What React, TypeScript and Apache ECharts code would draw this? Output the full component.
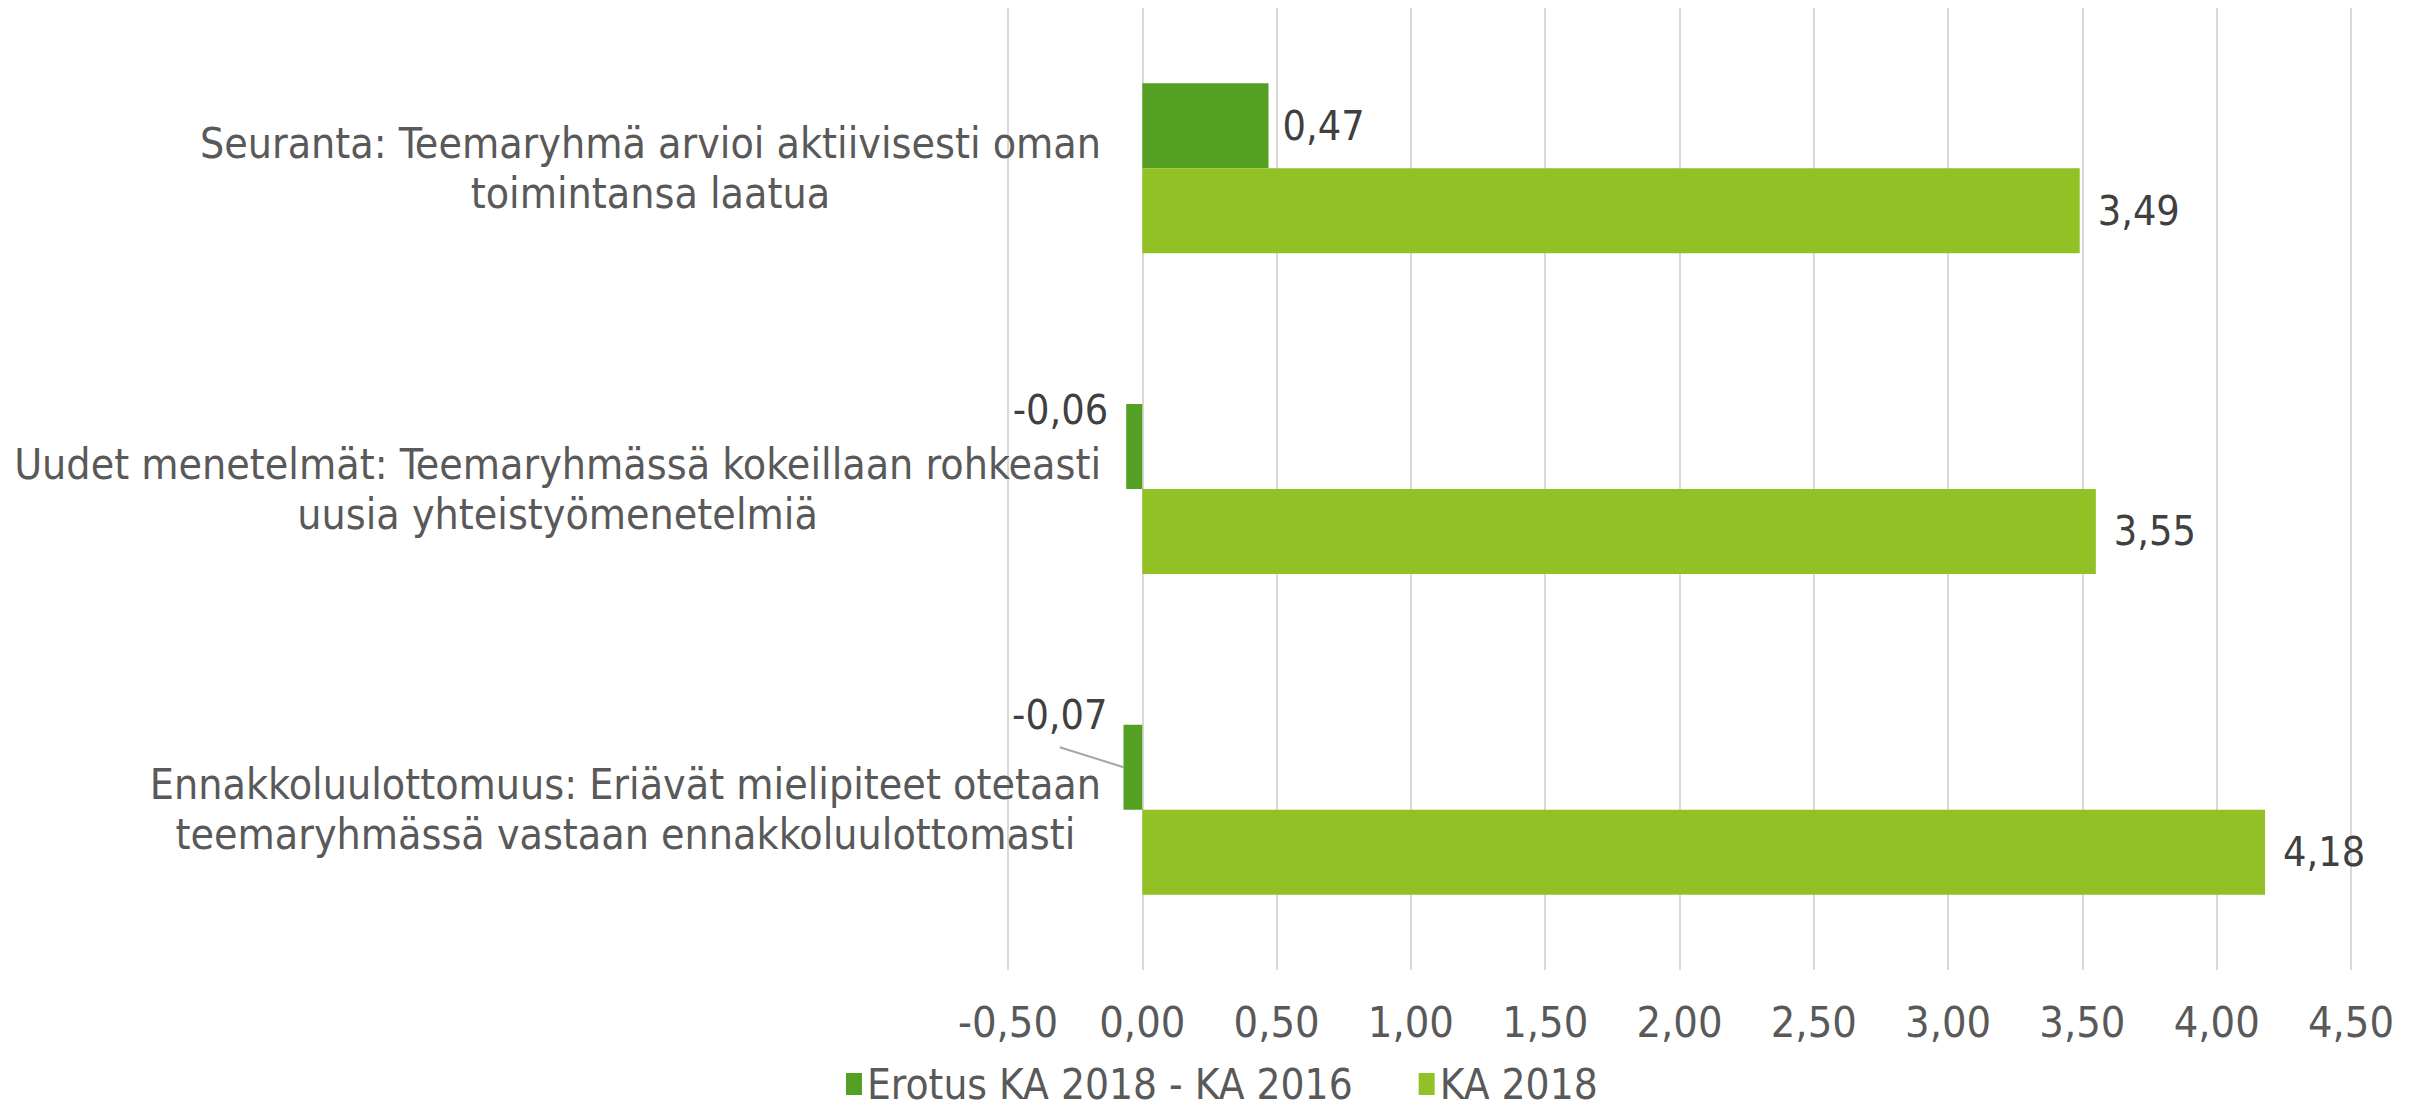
import React, { useEffect, useRef } from "react";
import * as echarts from "echarts";

const categories: string[] = [
  "Seuranta: Teemaryhmä arvioi aktiivisesti oman\ntoimintansa laatua",
  "Uudet menetelmät: Teemaryhmässä kokeillaan rohkeasti\nuusia yhteistyömenetelmiä",
  "Ennakkoluulottomuus: Eriävät mielipiteet otetaan\nteemaryhmässä vastaan ennakkoluulottomasti",
];
const seriesNames: string[] = ["Erotus KA 2018 - KA 2016", "KA 2018"];
const erotus: number[] = [0.47, -0.06, -0.07];
const ka2018: number[] = [3.49, 3.55, 4.18];
const xMin = -0.5;
const xMax = 4.5;
const xInterval = 0.5;
const leaderIndex = 2;

const FONT = "'DejaVu Sans Condensed', 'DejaVu Sans', sans-serif";
const fmt = (v: number) => v.toFixed(2).replace(".", ",");

type Leader = { x1: number; y1: number; x2: number; y2: number };

export default function App() {
  const ref = useRef<HTMLDivElement>(null);
  useEffect(() => {
    if (!ref.current) return;
    const chart = echarts.init(ref.current, undefined, { renderer: "svg" });
    let leader: Leader | null = null;
    chart.setOption({
      animation: false,
      backgroundColor: "#ffffff",
      textStyle: { fontFamily: FONT },
      grid: {
        left: 1008,
        right: 71,
        top: 8,
        bottom: 144,
        containLabel: false,
        outerBoundsMode: "none",
      },
      legend: {
        bottom: 4,
        left: 841,
        itemWidth: 16,
        itemHeight: 22,
        itemGap: 66,
        icon: "rect",
        textStyle: { fontSize: 42, lineHeight: 42, color: "#595959", fontFamily: FONT },
        data: seriesNames,
      },
      xAxis: {
        type: "value",
        min: xMin,
        max: xMax,
        interval: xInterval,
        axisLine: { show: false },
        axisTick: { show: false },
        splitLine: { lineStyle: { color: "#d9d9d9", width: 2 } },
        axisLabel: {
          fontSize: 43,
          color: "#595959",
          margin: 30,
          fontFamily: FONT,
          formatter: (v: number) => fmt(v),
        },
      },
      yAxis: {
        type: "category",
        inverse: true,
        data: categories,
        axisLine: { show: false },
        axisTick: { show: false },
        axisLabel: {
          fontSize: 42,
          color: "#595959",
          margin: -93,
          lineHeight: 50,
          fontFamily: FONT,
          formatter: (v: string) =>
            v
              .split("\n")
              .map((l) => `{c|${l}}`)
              .join("\n"),
          rich: {
            c: {
              align: "center",
              fontSize: 42.5,
              lineHeight: 50,
              color: "#595959",
              fontFamily: FONT,
            },
          },
        },
      },
      series: [
        {
          name: seriesNames[0],
          type: "bar",
          barGap: "0%",
          barCategoryGap: "47%",
          itemStyle: { color: "#54A022" },
          data: erotus,
          label: {
            show: true,
            position: "right",
            distance: 14,
            fontSize: 41,
            color: "#404040",
            fontFamily: FONT,
            formatter: (p: any) => fmt(p.value),
          },
          labelLayout: (p: any) => {
            const v = erotus[p.dataIndex];
            if (v < 0) {
              const rect = p.rect;
              const lw = p.labelRect.width;
              const lh = p.labelRect.height;
              if (p.dataIndex === leaderIndex) {
                const lx = rect.x - lw - 16;
                const ly = rect.y - 10;
                leader = {
                  x1: lx + lw / 2,
                  y1: ly + lh / 2 + 12,
                  x2: rect.x,
                  y2: rect.y + rect.height / 2,
                };
                return { x: lx, y: ly, align: "left", verticalAlign: "middle" };
              }
              return { x: rect.x - lw - 18, y: rect.y + 6, align: "left", verticalAlign: "middle" };
            }
            return {};
          },
        },
        {
          name: seriesNames[1],
          type: "bar",
          barGap: "0%",
          barCategoryGap: "47%",
          itemStyle: { color: "#92C126" },
          data: ka2018,
          label: {
            show: true,
            position: "right",
            distance: 18,
            fontSize: 41,
            color: "#404040",
            fontFamily: FONT,
            formatter: (p: any) => fmt(p.value),
          },
        },
      ],
    });
    if (leader) {
      const l = leader as Leader;
      chart.setOption({
        graphic: [
          {
            type: "line",
            silent: true,
            shape: { x1: l.x1, y1: l.y1, x2: l.x2, y2: l.y2 },
            style: { stroke: "#a6a6a6", lineWidth: 2 },
          },
        ],
      });
    }
    return () => chart.dispose();
  }, []);
  return (
    <div
      ref={ref}
      style={{ position: "fixed", left: 0, top: 0, width: 2422, height: 1114 }}
    />
  );
}
